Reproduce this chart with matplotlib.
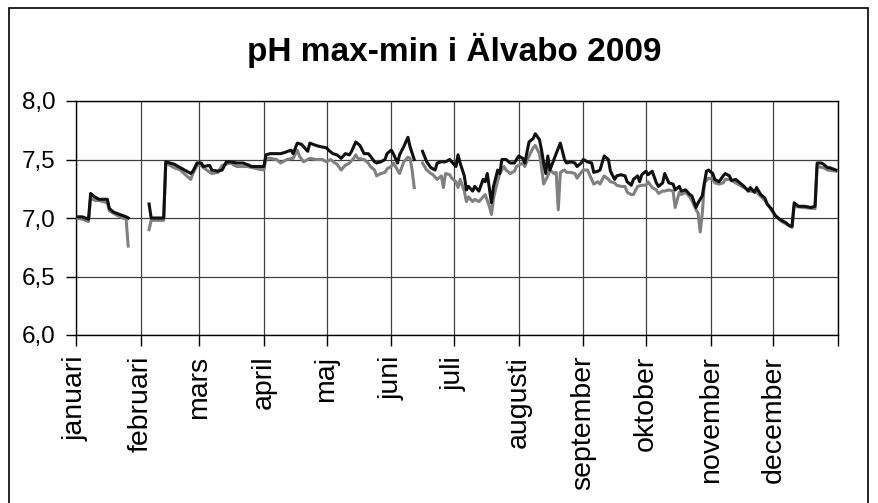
import numpy as np
import matplotlib
matplotlib.use("Agg")
import matplotlib.pyplot as plt
from matplotlib.patches import Rectangle

plt.rcParams['font.family'] = ['Liberation Sans', 'DejaVu Sans']

title = "pH max-min i Älvabo 2009"
months = ["januari", "februari", "mars", "april", "maj", "juni", "juli",
          "augusti", "september", "oktober", "november", "december"]
month_start_day = [0, 31, 59, 90, 120, 151, 181, 212, 243, 273, 304, 334, 365]
yticks = [6.0, 6.5, 7.0, 7.5, 8.0]

nan = np.nan
max_days = [0, 3, 6, 7, 9, 11, 13, 15, 16, 18, 21, 24, 25, 30,
            35, 36, 38, 42, 43, 45, 47, 50, 53, 55, 56, 58, 60, 61, 64, 65, 68, 70, 72, 74, 77, 80,
            83, 84, 87, 90, 91, 93, 98, 100, 103, 104, 106, 108, 109, 111, 112, 115, 117, 120, 121,
            123, 125, 127, 129, 131, 132, 134, 136, 138, 140, 141, 143, 144, 146, 148, 149, 151,
            152, 154, 155, 157, 159, 160, 162, 164,
            166, 168, 170, 172, 173, 175, 177, 179, 180, 182, 183, 184, 186, 187, 188, 190, 191,
            193, 195, 196, 197, 199, 200, 202, 203, 204, 206, 208, 210, 212, 214, 215, 217, 219,
            220, 222, 223, 224, 225, 226, 227, 230, 232, 234, 235, 237, 239, 240, 242, 243, 245,
            247, 248, 250, 251, 253, 255, 256, 258, 259, 261, 263, 264, 266, 267, 269, 270, 271,
            273, 274, 276, 278, 279, 281, 282, 284, 286, 287, 289, 290, 292, 294, 295, 297, 298,
            300, 301, 302, 303, 305, 306, 308, 310, 311, 313, 314, 316, 318, 320, 322, 323, 325,
            326, 328, 330, 331, 333, 335, 337, 340, 342, 343, 344, 346, 349, 352, 354, 355, 357,
            358, 360, 361, 364]
max_ph = [7.01, 7.01, 6.99, 7.21, 7.18, 7.16, 7.16, 7.16, 7.08, 7.05, 7.03, 7.01, 7.00, nan,
          7.12, 7.00, 7.00, 7.00, 7.48, 7.47, 7.46, 7.43, 7.40, 7.38, 7.40, 7.47, 7.47, 7.44, 7.45,
          7.41, 7.40, 7.41, 7.48, 7.48, 7.47, 7.47,
          7.45, 7.44, 7.44, 7.44, 7.54, 7.55, 7.55, 7.56, 7.58, 7.55, 7.64, 7.63, 7.61, 7.57, 7.64,
          7.62, 7.61, 7.60, 7.58,
          7.55, 7.54, 7.51, 7.55, 7.54, 7.57, 7.65, 7.62, 7.55, 7.55, 7.53, 7.48, 7.47, 7.48, 7.50,
          7.55, 7.58,
          7.55, 7.47, 7.54, 7.61, 7.69, 7.61, 7.50, nan,
          7.57, 7.48, 7.43, 7.41, 7.47, 7.48, 7.48, 7.50, 7.48, 7.44, 7.54, 7.47, 7.36, 7.24, 7.27,
          7.23, 7.27,
          7.23, 7.33, 7.31, 7.38, 7.13, 7.27, 7.41, 7.38, 7.50, 7.50, 7.47, 7.47, 7.53, 7.51, 7.47,
          7.65, 7.68,
          7.72, 7.67, 7.58, 7.47, 7.38, 7.53, 7.41, 7.55, 7.64, 7.50, 7.47, 7.48, 7.47, 7.44, 7.47,
          7.50, 7.48,
          7.47, 7.39, 7.40, 7.41, 7.53, 7.50, 7.40, 7.33, 7.36, 7.37, 7.36, 7.31, 7.28, 7.33, 7.36,
          7.31, 7.37,
          7.40, 7.37, 7.40, 7.30, 7.27, 7.30, 7.38, 7.30, 7.29, 7.24, 7.27, 7.23, 7.24, 7.20, 7.19,
          7.09, 7.13,
          7.19, 7.30, 7.40, 7.41, 7.38, 7.33, 7.31, 7.36, 7.38, 7.36, 7.32, 7.33, 7.30, 7.27, 7.23,
          7.26, 7.22,
          7.26, 7.20, 7.17, 7.12, 7.08, 7.02, 6.99, 6.96, 6.93, 6.93, 7.13, 7.10, 7.10, 7.09, 7.10,
          7.47, 7.47,
          7.46, 7.43, 7.43, 7.41]

min_days = [0, 3, 6, 7, 9, 11, 13, 15, 16, 18, 21, 24, 25, 30,
            35, 36, 38, 42, 43, 45, 47, 50, 53, 55, 56, 58, 60, 61, 65, 68, 70, 74, 77, 82, 87, 90,
            91, 93, 96, 98, 101, 104, 106, 107, 109, 112, 115, 118, 120, 122, 124, 125, 127, 129,
            131, 133, 134, 135, 138, 140, 141, 143, 144, 146, 148, 149, 151, 152, 154, 155, 157,
            159, 160, 161, 162, 164,
            166, 168, 170, 171, 173, 175, 176, 177, 179, 180, 182, 183, 184, 186, 187, 188, 190,
            191, 193, 195, 196, 198, 199, 200, 202, 203, 205, 206, 208, 210, 211, 214, 215, 217,
            219, 220, 222, 223, 224, 226, 227, 229, 230, 231, 232, 234, 235, 237, 239, 240, 242,
            243, 245, 247, 248, 250, 251, 253, 255, 256, 258, 259, 261, 263, 264, 266, 267, 269,
            271, 273, 274, 276, 278, 279, 281, 282, 284, 286, 287, 289, 290, 292, 294, 295, 297,
            298, 299, 300, 301, 303, 305, 306, 308, 310, 311, 313, 316, 320, 323, 326, 330, 335,
            338, 343, 344, 348, 354, 355, 358, 360, 364]
min_ph = [7.00, 6.99, 6.97, 7.17, 7.15, 7.15, 7.14, 7.13, 7.06, 7.04, 7.01, 6.99, 6.76, nan,
          6.90, 6.98, 6.98, 6.98, 7.47, 7.45, 7.43, 7.41, 7.36, 7.33, 7.38, 7.45, 7.45, 7.43, 7.38,
          7.39, 7.45, 7.47, 7.44, 7.44, 7.42, 7.41,
          7.51, 7.51, 7.50, 7.47, 7.50, 7.51, 7.58, 7.53, 7.48, 7.51, 7.50, 7.50, 7.48, 7.50, 7.47,
          7.46, 7.41, 7.45,
          7.47, 7.51, 7.54, 7.51, 7.50, 7.47, 7.44, 7.41, 7.36, 7.38, 7.39, 7.42, 7.44, 7.47, 7.41,
          7.38, 7.48,
          7.52, 7.51, 7.41, 7.26, nan,
          7.47, 7.41, 7.38, 7.37, 7.33, 7.36, 7.26, 7.38, 7.37, 7.34, 7.31, 7.26, 7.33, 7.23, 7.14,
          7.18, 7.14,
          7.16, 7.14, 7.18, 7.20, 7.10, 7.03, 7.17, 7.32, 7.38, 7.44, 7.41, 7.38, 7.40, 7.44, 7.47,
          7.44, 7.53,
          7.60, 7.62, 7.55, 7.43, 7.29, 7.36, 7.41, 7.38, 7.39, 7.07, 7.39, 7.41, 7.39, 7.39, 7.38,
          7.34, 7.39,
          7.41, 7.41, 7.33, 7.29, 7.31, 7.29, 7.36, 7.33, 7.31, 7.30, 7.28, 7.27, 7.27, 7.22, 7.20,
          7.20, 7.27,
          7.28, 7.28, 7.31, 7.26, 7.24, 7.21, 7.23, 7.23, 7.24, 7.23, 7.09, 7.22, 7.20, 7.22, 7.18,
          7.15, 7.07,
          7.04, 6.88, 7.04, 7.30, 7.34, 7.33, 7.30, 7.29, 7.30, 7.33, 7.33, 7.30, 7.26, 7.23, 7.22,
          7.15, 7.02,
          6.97, 6.92, 7.10, 7.09, 7.08, 7.44, 7.43, 7.41, 7.40]

W, H = 879, 503
fig = plt.figure(figsize=(W / 100, H / 100), dpi=100)
ax = fig.add_axes([76 / W, 1 - 335 / H, (838 - 76) / W, (335 - 101) / H])

ax.plot(min_days, min_ph, color="#808080", lw=2.2, zorder=3, solid_joinstyle="round")
ax.plot(max_days, max_ph, color="#101010", lw=2.2, zorder=4, solid_joinstyle="round")

ax.set_xlim(month_start_day[0], month_start_day[-1])
ax.set_ylim(yticks[0], yticks[-1])
ax.set_yticks(yticks)
ax.set_yticklabels([f"{v:.1f}".replace(".", ",") for v in yticks])
ax.set_xticks(month_start_day)
ax.set_xticklabels(months + [""], rotation=90, va="top", ha="center")

ax.grid(True, color="#404040", lw=0.9)
ax.set_axisbelow(True)
for s in ax.spines.values():
    s.set_color("#000000")
    s.set_linewidth(1.0)
ax.tick_params(axis="x", direction="out", length=8, width=1, pad=7, labelsize=20.5)
ax.tick_params(axis="y", direction="out", length=7, width=1, pad=8, labelsize=17.5)

fig.text(454 / W, 1 - 50 / H, title, ha="center", va="center", fontsize=24, fontweight="bold")

fig.patches.append(Rectangle((9 / W, -0.05), (868 - 9) / W, 1.05 - 8 / H, transform=fig.transFigure,
                             fill=False, edgecolor="black", lw=1.2))

fig.savefig("out.png", dpi=100)
